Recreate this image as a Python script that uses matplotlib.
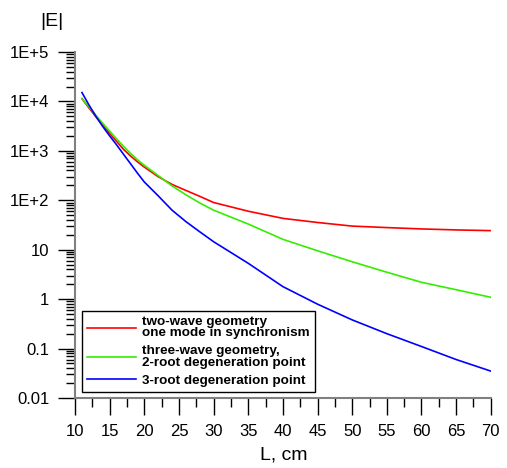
import numpy as np
import matplotlib
matplotlib.use('Agg')
import matplotlib.pyplot as plt
from matplotlib.ticker import FixedLocator, NullFormatter

plt.rcParams['font.family'] = ['Liberation Sans', 'DejaVu Sans']

# === data ===
L_cm = [11, 12, 13, 14, 15, 16, 17, 18, 19, 20, 22, 24, 26, 28, 30,
        35, 40, 45, 50, 55, 60, 65, 70]
two_wave = [11350, 7400, 4900, 3300, 2240, 1550, 1070, 790, 600, 468, 300, 209,
            158, 120, 90, 60, 43, 35.5, 30, 28, 26.3, 25.1, 24.3]
three_wave = [11350, 7800, 5250, 3600, 2500, 1740, 1230, 890, 660, 510, 316, 195,
              129, 88, 63, 33, 16.2, 9.5, 5.7, 3.5, 2.19, 1.55, 1.09]
three_root = [15100, 8500, 5000, 3100, 2000, 1320, 850, 550, 355, 234, 123, 63,
              37, 23, 14.5, 5.3, 1.79, 0.79, 0.38, 0.2, 0.11, 0.06, 0.035]

labels = ['two-wave geometry\none mode in synchronism',
          'three-wave geometry,\n2-root degeneration point',
          '3-root degeneration point']

y_ticks = [0.01, 0.1, 1, 10, 100, 1000, 10000, 100000]
y_tick_labels = ['0.01', '0.1', '1', '10', '1E+2', '1E+3', '1E+4', '1E+5']
x_ticks = list(range(10, 75, 5))

# === plot ===
fig = plt.figure(figsize=(5.07, 4.68), dpi=100)
ax = fig.add_axes([0.148, 0.1496, 0.820, 0.7394])

ax.plot(L_cm, two_wave, color='#ff0000', lw=1.2, label=labels[0])
ax.plot(L_cm, three_wave, color='#33ee00', lw=1.2, label=labels[1])
ax.plot(L_cm, three_root, color='#0000ff', lw=1.2, label=labels[2])

ax.set_yscale('log')
ax.set_xlim(10, 70)
ax.set_ylim(0.01, 1e5)

ax.yaxis.set_major_locator(FixedLocator(y_ticks))
ax.set_yticklabels(y_tick_labels)
ax.yaxis.set_minor_locator(FixedLocator(
    [m * 10.0**e for e in range(-2, 5) for m in range(2, 10)]))
ax.yaxis.set_minor_formatter(NullFormatter())

ax.set_xticks(x_ticks)
ax.set_xticks(np.arange(12.5, 70, 5), minor=True)

for s in ['top', 'right']:
    ax.spines[s].set_visible(False)
for s in ['left', 'bottom']:
    ax.spines[s].set_color('#808080')
    ax.spines[s].set_linewidth(1.5)

ax.tick_params(which='major', length=12.5, width=1, color='black',
               labelsize=12, pad=6)
ax.tick_params(which='minor', length=6.5, width=1, color='black')

leg = ax.legend(loc='lower left', bbox_to_anchor=(0.016, 0.016),
                frameon=True, fancybox=False, framealpha=1,
                edgecolor='black', prop={'weight': 'bold', 'size': 9.7},
                handlelength=3.6, handletextpad=0.45, labelspacing=0.45,
                borderpad=0.4, borderaxespad=0)
leg.get_frame().set_linewidth(1.0)
for t in leg.get_texts():
    t.set_linespacing(0.9)

fig.text(0.103, 0.955, '|E|', fontsize=14, ha='center', va='center')
fig.text(0.56, 0.028, 'L, cm', fontsize=14, ha='center', va='center')

plt.savefig('out.png', dpi=100)
